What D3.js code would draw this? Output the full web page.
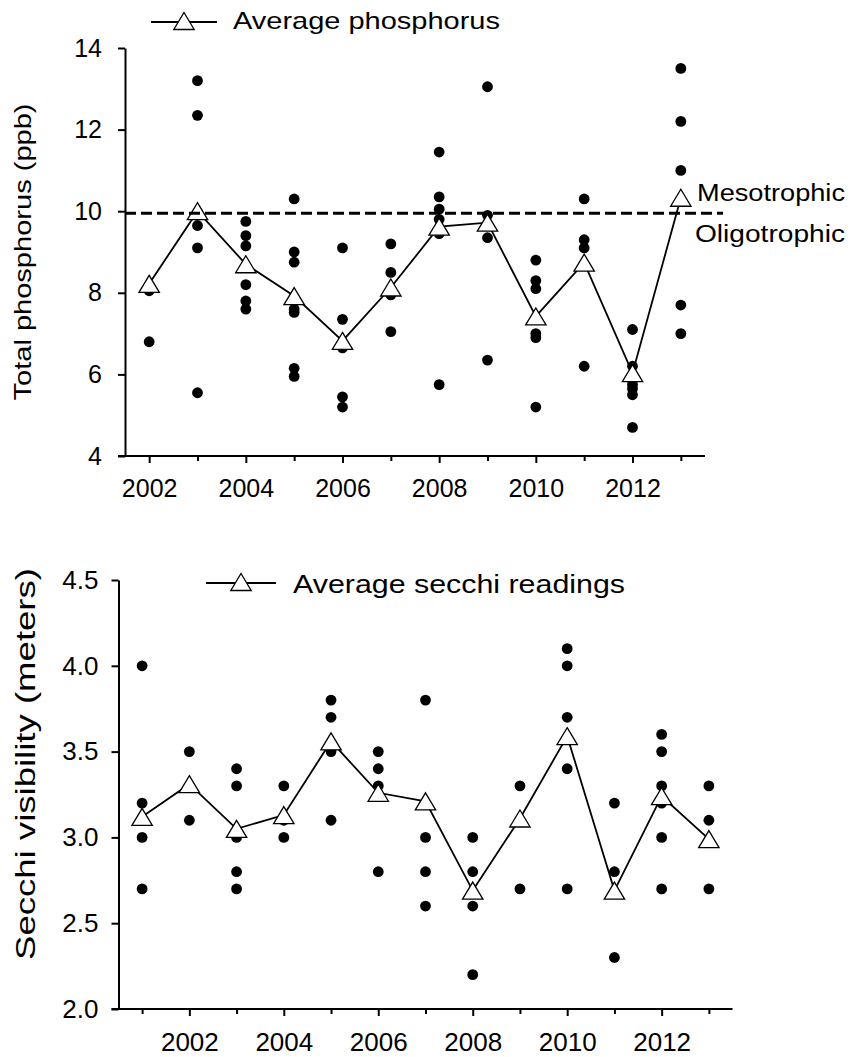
<!DOCTYPE html>
<html lang="en">
<head>
<meta charset="UTF-8">
<title>Phosphorus and secchi</title>
<script src="https://cdn.jsdelivr.net/npm/d3@7/dist/d3.min.js"></script>
<style>
    body { margin: 0; background: #fff; }
    text { font-family: "Liberation Sans", Arial, sans-serif; fill: #000; }
</style>
</head>
<body>
<svg width="856" height="1057"></svg>
<script>

    // top chart data: total phosphorus (ppb)
    var tpYears = [2002, 2003, 2004, 2005, 2006, 2007, 2008, 2009, 2010, 2011, 2012, 2013];
    var tpSamples = [
        [8.05, 6.8],
        [13.2, 12.35, 9.65, 9.1, 5.55],
        [9.75, 9.4, 9.15, 8.2, 7.8, 7.6],
        [10.3, 9.0, 8.75, 7.6, 7.52, 6.15, 5.95],
        [9.1, 7.35, 6.65, 5.45, 5.2],
        [9.2, 8.5, 7.95, 7.05],
        [11.45, 10.35, 10.05, 9.8, 9.45, 5.75],
        [13.05, 9.9, 9.35, 6.35],
        [8.8, 8.3, 8.1, 7.0, 6.9, 5.2],
        [10.3, 9.3, 9.1, 6.2],
        [7.1, 6.2, 5.75, 5.65, 5.5, 4.7],
        [13.5, 12.2, 11.0, 7.7, 7.0]
    ];
    var tpAvg = [8.22, 10.0, 8.7, 7.92, 6.82, 8.13, 9.62, 9.72, 7.42, 8.74, 6.03, 10.33];
    var tpTicks = [4, 6, 8, 10, 12, 14];
    var tpThreshold = 9.95;

    // bottom chart data: secchi visibility (meters)
    var sdYears = [2001, 2002, 2003, 2004, 2005, 2006, 2007, 2008, 2009, 2010, 2011, 2012, 2013];
    var sdSamples = [
        [4.0, 3.2, 3.0, 2.7],
        [3.5, 3.1],
        [3.4, 3.3, 3.0, 2.8, 2.7],
        [3.3, 3.1, 3.0],
        [3.8, 3.7, 3.5, 3.1],
        [3.5, 3.4, 3.3, 2.8],
        [3.8, 3.0, 2.8, 2.6],
        [3.0, 2.8, 2.6, 2.2],
        [3.3, 2.7],
        [4.1, 4.0, 3.7, 3.4, 2.7],
        [3.2, 2.8, 2.3],
        [3.6, 3.5, 3.3, 3.2, 3.0, 2.7],
        [3.3, 3.1, 2.7]
    ];
    var sdAvg = [3.12, 3.31, 3.05, 3.13, 3.56, 3.26, 3.21, 2.69, 3.11, 3.59, 2.69, 3.24, 2.99];
    var sdTicks = [2.0, 2.5, 3.0, 3.5, 4.0, 4.5];

    var svg = d3.select('svg');
    var tri = 'M0,-8.5L10.2,8.5L-10.2,8.5Z';
    var FONT = '"Liberation Sans", Arial, sans-serif';

    function panel(opt){
        var x = d3.scaleLinear().domain(opt.xDomain).range(opt.xRange);
        var y = d3.scaleLinear().domain(opt.yDomain).range(opt.yRange);
        var g = svg.append('g');
        var x0 = opt.xRange[0], y0 = opt.yRange[0];

        // y axis
        var ya = g.append('g')
            .attr('transform', 'translate(' + x0 + ',0)')
            .call(d3.axisLeft(y).tickValues(opt.yTicks).tickSize(7).tickSizeOuter(0).tickFormat(opt.yFormat));
        ya.select('.domain').attr('stroke-width', 2);
        ya.selectAll('.tick line').attr('stroke-width', 2);
        ya.selectAll('.tick text')
            .attr('x', opt.yLabelX)
            .style('font-size', opt.tickSize + 'px')
            .style('font-family', FONT);

        // x axis
        var xa = g.append('g')
            .attr('transform', 'translate(0,' + y0 + ')')
            .call(d3.axisBottom(x).tickValues(opt.years).tickSizeOuter(0)
                .tickFormat(function(d){ return d % 2 === 0 ? d : ''; }));
        xa.select('.domain').remove();
        xa.append('line')
            .attr('x1', x0 - 7).attr('x2', opt.xRange[1])
            .attr('stroke', '#000').attr('stroke-width', 2);
        xa.selectAll('.tick line')
            .attr('stroke-width', 2)
            .attr('y2', function(d){ return d % 2 === 0 ? 7 : 5; });
        xa.selectAll('.tick text')
            .attr('y', opt.xLabelY).attr('dy', 0)
            .style('font-size', opt.tickSize + 'px')
            .style('font-family', FONT);

        // y title
        g.append('text')
            .attr('transform', 'translate(' + opt.titleX + ',' + opt.titleY + ') rotate(-90)')
            .attr('text-anchor', 'middle')
            .attr('textLength', opt.titleLen)
            .attr('lengthAdjust', 'spacingAndGlyphs')
            .style('font-size', opt.titleSize + 'px')
            .text(opt.title);

        // sample dots
        var pts = [];
        opt.samples.forEach(function(arr, i){
            arr.forEach(function(v){ pts.push({yr: opt.years[i], v: v}); });
        });
        g.selectAll('circle.pt')
            .data(pts)
            .enter().append('circle')
            .attr('class', 'pt')
            .attr('cx', function(d){ return x(d.yr); })
            .attr('cy', function(d){ return y(d.v); })
            .attr('r', 5.4)
            .attr('fill', '#000');

        // average line + triangles
        var line = d3.line()
            .x(function(d, i){ return x(opt.years[i]); })
            .y(function(d){ return y(d); });
        g.append('path')
            .datum(opt.avg)
            .attr('d', line)
            .attr('fill', 'none')
            .attr('stroke', '#000')
            .attr('stroke-width', 1.8);
        g.selectAll('path.tri')
            .data(opt.avg)
            .enter().append('path')
            .attr('class', 'tri')
            .attr('d', tri)
            .attr('transform', function(d, i){ return 'translate(' + x(opt.years[i]) + ',' + y(d) + ')'; })
            .attr('fill', '#fff')
            .attr('stroke', '#000')
            .attr('stroke-width', 1.3);

        // legend
        var lg = g.append('g').attr('transform', 'translate(' + opt.legX + ',' + opt.legY + ')');
        lg.append('line').attr('x1', 0).attr('x2', opt.legLen)
            .attr('stroke', '#000').attr('stroke-width', 1.8);
        lg.append('path').attr('d', tri)
            .attr('transform', 'translate(' + (opt.legLen / 2) + ',-1)')
            .attr('fill', '#fff').attr('stroke', '#000').attr('stroke-width', 1.3);
        lg.append('text')
            .attr('x', opt.legTextX).attr('y', opt.legTextDy)
            .attr('textLength', opt.legTextLen)
            .attr('lengthAdjust', 'spacingAndGlyphs')
            .style('font-size', opt.legSize + 'px')
            .text(opt.legText);

        return {x: x, y: y, g: g};
    }

    var tpPanel = panel({
        years: tpYears, samples: tpSamples, avg: tpAvg,
        xDomain: [2001.5, 2013.5], xRange: [125, 705],
        yDomain: [4, 14], yRange: [456, 48], yTicks: tpTicks,
        yFormat: d3.format('d'), yLabelX: -23, xLabelY: 41, tickSize: 25,
        title: 'Total phosphorus (ppb)', titleX: 31, titleY: 252, titleSize: 24, titleLen: 297,
        legX: 151, legY: 22, legLen: 66, legTextX: 82, legTextDy: 7,
        legSize: 24, legTextLen: 267, legText: 'Average phosphorus'
    });

    // trophic threshold
    tpPanel.g.append('line')
        .attr('x1', tpPanel.x.range()[0]).attr('x2', 723)
        .attr('y1', tpPanel.y(tpThreshold)).attr('y2', tpPanel.y(tpThreshold))
        .attr('stroke', '#000').attr('stroke-width', 3)
        .attr('stroke-dasharray', '11,5');
    tpPanel.g.append('text').attr('x', 697).attr('y', 201)
        .attr('textLength', 148).attr('lengthAdjust', 'spacingAndGlyphs')
        .style('font-size', '23px').text('Mesotrophic');
    tpPanel.g.append('text').attr('x', 695).attr('y', 242)
        .attr('textLength', 150).attr('lengthAdjust', 'spacingAndGlyphs')
        .style('font-size', '23px').text('Oligotrophic');

    panel({
        years: sdYears, samples: sdSamples, avg: sdAvg,
        xDomain: [2000.5, 2013.5], xRange: [118.5, 732.5],
        yDomain: [2, 4.5], yRange: [1009, 580], yTicks: sdTicks,
        yFormat: d3.format('.1f'), yLabelX: -20, xLabelY: 42, tickSize: 26,
        title: 'Secchi visibility (meters)', titleX: 35, titleY: 764, titleSize: 27, titleLen: 392,
        legX: 206, legY: 583, legLen: 70, legTextX: 87, legTextDy: 10,
        legSize: 25, legTextLen: 332, legText: 'Average secchi readings'
    });

</script>
</body>
</html>
